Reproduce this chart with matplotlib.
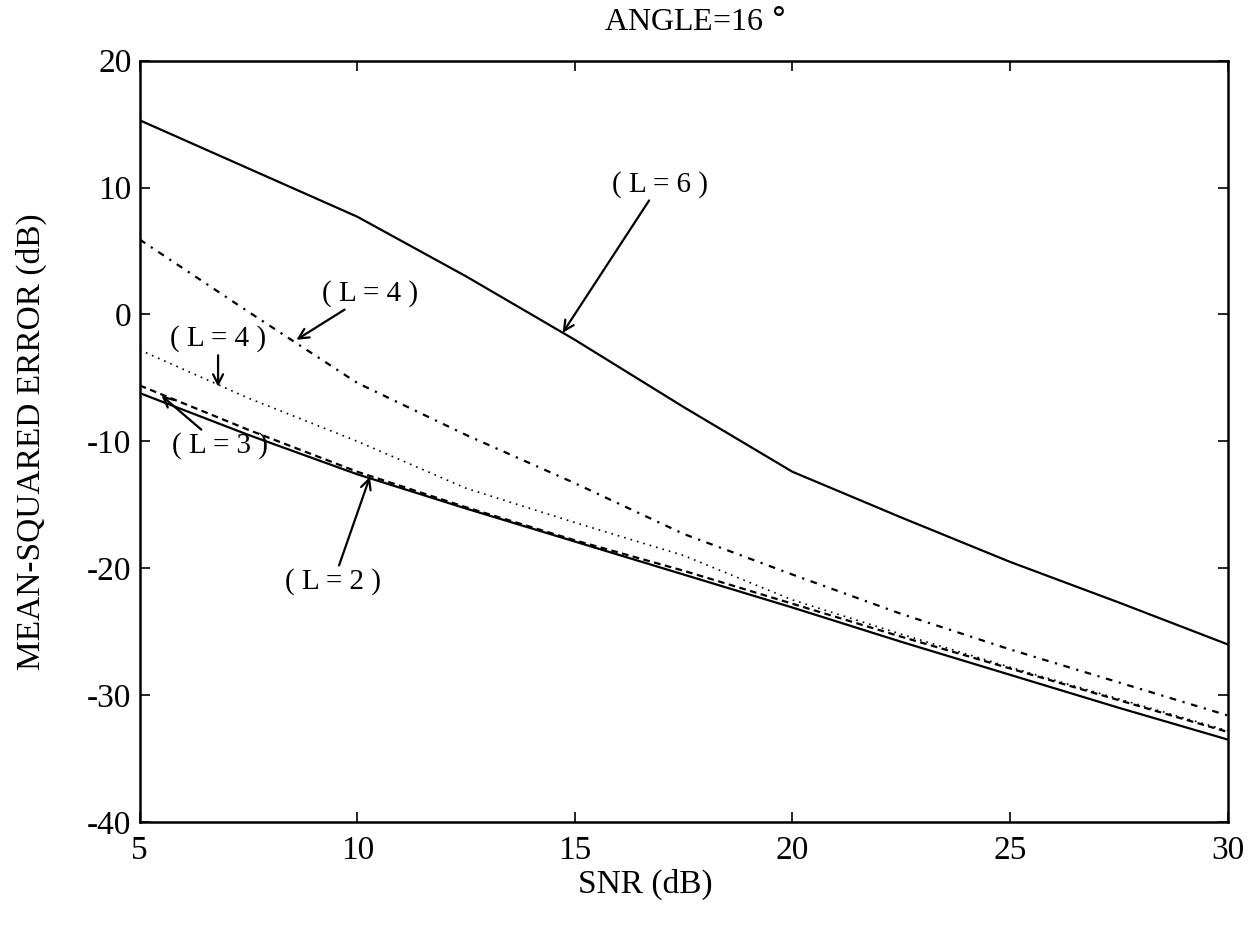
import matplotlib
matplotlib.use('Agg')
import matplotlib.pyplot as plt

plt.rcParams['font.family'] = ['Liberation Serif', 'DejaVu Serif']
plt.rcParams['axes.unicode_minus'] = False

snr = [5, 7.5, 10, 12.5, 15, 17.5, 20, 22.5, 25, 27.5, 30]
mse_l6 = [15.3, 11.5, 7.7, 3.0, -2.0, -7.3, -12.4, -16.0, -19.5, -22.7, -26.0]
mse_l4_dashdot = [5.9, 0.2, -5.4, -9.5, -13.3, -17.3, -20.5, -23.6, -26.4, -29.0, -31.6]
mse_l4_dotted = [-2.8, -6.6, -10.0, -13.7, -16.4, -19.0, -22.5, -25.2, -27.8, -30.3, -32.8]
mse_l3 = [-5.6, -9.1, -12.4, -15.2, -17.8, -20.2, -22.8, -25.4, -27.9, -30.4, -32.9]
mse_l2 = [-6.2, -9.5, -12.6, -15.3, -17.9, -20.5, -23.1, -25.8, -28.4, -31.0, -33.5]

fig = plt.figure(figsize=(12.59, 9.33), dpi=100)
ax = fig.add_axes([0.111, 0.119, 0.864, 0.816])

ax.plot(snr, mse_l6, color='black', lw=1.6, linestyle='-')
ax.plot(snr, mse_l4_dashdot, color='black', lw=1.6, linestyle=(0, (3, 3, 1, 3)))
ax.plot(snr, mse_l4_dotted, color='black', lw=1.2, linestyle=(0, (1, 3)))
ax.plot(snr, mse_l3, color='black', lw=1.6, linestyle=(0, (3, 2)))
ax.plot(snr, mse_l2, color='black', lw=1.6, linestyle='-')

# labels with arrows pointing at each curve
arrow = dict(arrowstyle='->', lw=1.6, color='black', shrinkA=0, shrinkB=0, mutation_scale=18)
fs = 21
ax.annotate('( L = 6 )', xy=(14.72, -1.45), xytext=(16.95, 9.2), fontsize=fs,
            ha='center', va='bottom', arrowprops=arrow)
ax.annotate('( L = 4 )', xy=(8.6, -2.0), xytext=(9.2, 0.6), fontsize=fs,
            ha='left', va='bottom', arrowprops=arrow)
ax.annotate('( L = 4 )', xy=(6.8, -5.7), xytext=(6.8, -3.0), fontsize=fs,
            ha='center', va='bottom', arrowprops=arrow)
ax.annotate('( L = 3 )', xy=(5.5, -6.4), xytext=(5.75, -9.3), fontsize=fs,
            ha='left', va='top', arrowprops=arrow)
ax.annotate('( L = 2 )', xy=(10.29, -12.8), xytext=(9.45, -20.0), fontsize=fs,
            ha='center', va='top', arrowprops=arrow)

ax.set_xlim(5, 30)
ax.set_ylim(-40, 20)
ax.set_xticks([5, 10, 15, 20, 25, 30])
ax.set_yticks([-40, -30, -20, -10, 0, 10, 20])
ax.tick_params(direction='in', length=7, width=1.2, labelsize=24,
               top=True, right=True, pad=6)
ax.tick_params(axis='x', pad=10)
for s in ax.spines.values():
    s.set_linewidth(1.8)

ax.set_xlabel('SNR (dB)', fontsize=24)
ax.xaxis.set_label_coords(0.465, -0.062)
ax.set_ylabel('MEAN-SQUARED ERROR (dB)', fontsize=24)
ax.yaxis.set_label_coords(-0.085, 0.5)
ax.set_title('ANGLE=16 $\\degree$', fontsize=23, pad=22, x=0.51)

fig.savefig('out.png', dpi=100)
